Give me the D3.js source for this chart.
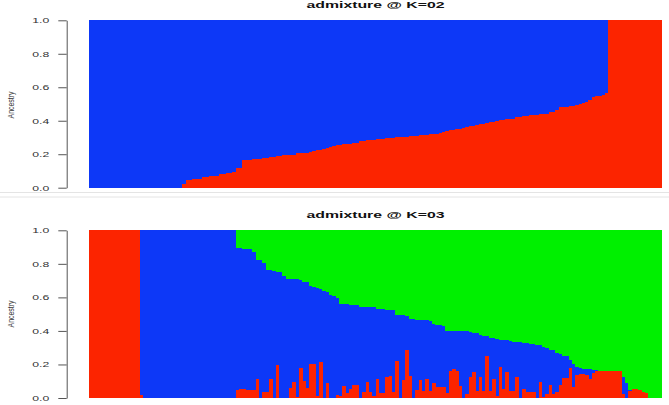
<!DOCTYPE html>
<html>
<head>
<meta charset="utf-8">
<script src="https://cdn.jsdelivr.net/npm/d3@7"></script>
<style>
  html, body { margin: 0; padding: 0; background: #fff; }
  svg { display: block; }
  .tick text, .panel-title, .ylab { font-family: "Liberation Sans", Arial, sans-serif; }
</style>
</head>
<body>
<div id="chart"></div>
<script>
//// DATA

// K=2 : red ancestry per individual (blue fills the rest)
const k2Red = [
  0,0,0,0,0,0,0,0,0,0, 0,0,0,0,0,0,0,0,0,0, 0,0,0,0,0,0,0,0,
  0.02,0.045,0.048,0.05,0.05,0.052,0.065,0.066,0.068,0.07,
  0.072,0.08,0.082,0.085,0.09,0.092,0.115,0.118,0.165,0.166,
  0.168,0.17,0.172,0.174,0.176,0.18,0.184,0.186,0.19,0.192,
  0.194,0.195,0.197,0.198,0.205,0.207,0.208,0.21,0.212,0.222,
  0.225,0.228,0.232,0.24,0.245,0.25,0.256,0.258,0.26,0.262,
  0.264,0.266,0.268,0.278,0.28,0.282,0.284,0.286,0.288,0.29,
  0.292,0.294,0.296,0.298,0.3,0.301,0.302,0.304,0.306,0.308,
  0.31,0.312,0.314,0.316,0.318,0.32,0.322,0.324,0.33,0.338,
  0.342,0.345,0.348,0.352,0.356,0.36,0.366,0.37,0.374,0.378,
  0.382,0.386,0.39,0.395,0.398,0.402,0.405,0.408,0.41,0.413,
  0.42,0.423,0.426,0.43,0.432,0.434,0.436,0.438,0.44,0.442,
  0.45,0.455,0.465,0.48,0.483,0.485,0.487,0.49,0.495,0.5,
  0.505,0.51,0.525,0.54,0.545,0.55,0.555,0.565,
  1,1,1,1,1,1,1,1,1,1,1,1,1,1,1,1
];

// K=3 : red (bottom) and green (top) ancestry, blue in between
const k3Red = [
  1,1,1,1,1,1,1,1,1,1,1,1,1,1,1,
  0.018,
  0,0,0,0,0,0,0,0,0,0, 0,0,0,0,0,0,0,0,0,0, 0,0,0,0,0,0,0,0,
  0.048,0.052,0.055,0.05,0.05,0.05,0.111,0,0.036,0.036,
  0.111,0,0.195,0,0,0,0.062,0.093,0.008,0.177,
  0.1,0.058,0.205,0.2,0.01,0.215,0,0.089,0,0,
  0.02,0.012,0.07,0.032,0.055,0.075,0.075,0,0.036,0.097,
  0.036,0.012,0.115,0.028,0.032,0.125,0.129,0.036,0.223,0,
  0.107,0.288,0.133,0,0.048,0.107,0.042,0.115,0.042,0.087,
  0.068,0.068,0.064,0.03,0.163,0.171,0.163,0.072,0,0.022,
  0.123,0.157,0.044,0.123,0.044,0.252,0.044,0.111,0.01,0.187,
  0.052,0.157,0.044,0.044,0.123,0,0.052,0.038,0.038,0.038,
  0,0.097,0.005,0.024,0.076,0.024,0.038,0.078,0.117,0.117,
  0.177,0.064,0.137,0.141,0.141,0.137,0.111,0.151,0.163,0.163,
  0.163,0.163,0.163,0.163,0.163,0.163,0.024,0,0.04,0.052,
  0.052,0.048,0.038,0.032,0,0,0,0
];

const k3Green = [
  0,0,0,0,0,0,0,0,0,0, 0,0,0,0,0,0,0,0,0,0,
  0,0,0,0,0,0,0,0,0,0, 0,0,0,0,0,0,0,0,0,0, 0,0,0,0,
  0.107,0.107,0.11,0.113,0.113,0.128,0.177,0.18,0.193,0.237,
  0.237,0.24,0.247,0.25,0.273,0.29,0.292,0.292,0.293,0.295,
  0.306,0.31,0.332,0.34,0.346,0.35,0.36,0.365,0.386,0.39,
  0.406,0.44,0.44,0.442,0.444,0.446,0.448,0.455,0.455,0.457,
  0.458,0.46,0.471,0.471,0.472,0.474,0.476,0.478,0.505,0.505,
  0.508,0.51,0.531,0.531,0.532,0.533,0.535,0.537,0.54,0.56,
  0.562,0.565,0.57,0.598,0.6,0.6,0.6,0.601,0.602,0.603,
  0.608,0.61,0.612,0.626,0.628,0.63,0.642,0.644,0.646,0.652,
  0.654,0.656,0.658,0.664,0.666,0.668,0.67,0.674,0.676,0.678,
  0.682,0.686,0.696,0.7,0.712,0.716,0.732,0.736,0.75,0.752,
  0.773,0.8,0.815,0.823,0.825,0.827,0.829,0.831,0.833,0.837,
  0.837,0.837,0.837,0.837,0.837,0.837,0.873,0.91,0.95,0.948,
  0.948,0.952,0.962,0.968,1,1,1,1
];

const yTicks = [0, 0.2, 0.4, 0.6, 0.8, 1.0];
const panelTitles = ["admixture @ K=02", "admixture @ K=03"];
const yLabel = "Ancestry";

//// LAYOUT

const W = 669, H = 405;
const PLOT_X = [89.3, 661.7];
const AXIS_X = 66.7;
const COLORS = { red: "#fc2400", blue: "#0d38f7", green: "#00f000" };

const panels = [
  { title: panelTitles[0], red: k2Red, green: null, yRange: [187.7, 20.3], titleY: 8, labY: 105 },
  { title: panelTitles[1], red: k3Red, green: k3Green, yRange: [398, 230.3], titleY: 217.5, labY: 314 }
];

const svg = d3.select("#chart").append("svg")
  .attr("width", W)
  .attr("height", H)
  .attr("viewBox", `0 0 ${W} ${H}`);

// faint border lines between the two stacked images
[192.5, 197].forEach(y => {
  svg.append("line")
    .attr("x1", 0).attr("x2", W)
    .attr("y1", y).attr("y2", y)
    .attr("stroke", "#e4e4e4").attr("stroke-width", 1);
});

const renderPanel = (p) => {
  const n = p.red.length;
  const x = d3.scaleBand().domain(d3.range(n)).range(PLOT_X).padding(0);
  const y = d3.scaleLinear().domain([0, 1]).range(p.yRange);
  const g = svg.append("g").attr("shape-rendering", "crispEdges");
  const idx = d3.range(n);

  // blue: full column (total ancestry = 1), red / green drawn over it
  g.selectAll(".blue").data(idx).enter().append("rect")
    .attr("x", i => x(i)).attr("width", x.bandwidth() + 0.3)
    .attr("y", y(1)).attr("height", y(0) - y(1))
    .attr("fill", COLORS.blue);

  g.selectAll(".red").data(idx.filter(i => p.red[i] > 0)).enter().append("rect")
    .attr("x", i => x(i)).attr("width", x.bandwidth() + 0.3)
    .attr("y", i => y(p.red[i])).attr("height", i => y(0) - y(p.red[i]))
    .attr("fill", COLORS.red);

  if (p.green) {
    g.selectAll(".green").data(idx.filter(i => p.green[i] > 0)).enter().append("rect")
      .attr("x", i => x(i)).attr("width", x.bandwidth() + 0.3)
      .attr("y", y(1)).attr("height", i => y(1 - p.green[i]) - y(1))
      .attr("fill", COLORS.green);
  }

  const axis = d3.axisLeft(y)
    .tickValues(yTicks)
    .tickFormat(d3.format(".1f"))
    .tickSize(8.4)
    .tickSizeOuter(0)
    .tickPadding(9);

  const ax = svg.append("g")
    .attr("transform", `translate(${AXIS_X},0)`)
    .call(axis);
  ax.select(".domain").attr("stroke", "#555");
  ax.selectAll(".tick line").attr("stroke", "#555");
  ax.selectAll(".tick text")
    .attr("font-size", 7.8)
    .attr("fill", "#333")
    .attr("textLength", 17)
    .attr("lengthAdjust", "spacingAndGlyphs");

  svg.append("text")
    .attr("class", "panel-title")
    .attr("x", (PLOT_X[0] + PLOT_X[1]) / 2)
    .attr("y", p.titleY)
    .attr("text-anchor", "middle")
    .attr("font-weight", "bold")
    .attr("font-size", 8.8)
    .attr("fill", "#111")
    .attr("textLength", 138)
    .attr("lengthAdjust", "spacingAndGlyphs")
    .text(p.title);

  svg.append("text")
    .attr("class", "ylab")
    .attr("transform", `translate(14.2,${p.labY}) rotate(-90)`)
    .attr("text-anchor", "middle")
    .attr("font-size", 9.6)
    .attr("fill", "#333")
    .attr("textLength", 27)
    .attr("lengthAdjust", "spacingAndGlyphs")
    .text(yLabel);
};

panels.forEach(renderPanel);
</script>
</body>
</html>
